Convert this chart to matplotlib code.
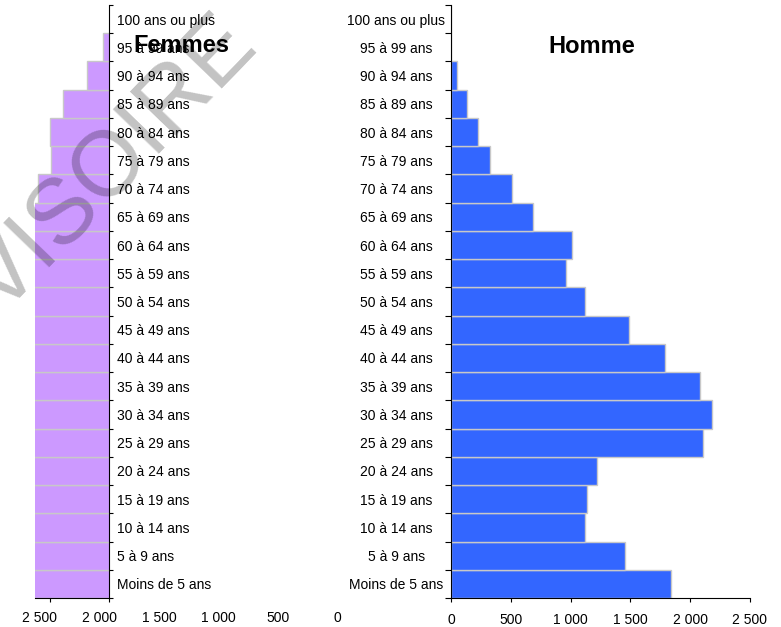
import matplotlib
matplotlib.use('Agg')
import matplotlib.pyplot as plt
import matplotlib.transforms as mtransforms

plt.rcParams['font.family'] = ['Liberation Sans', 'DejaVu Sans']

# Tranches d'âge, de la plus jeune à la plus âgée
ages = ['Moins de 5 ans', '5 à 9 ans', '10 à 14 ans', '15 à 19 ans', '20 à 24 ans',
        '25 à 29 ans', '30 à 34 ans', '35 à 39 ans', '40 à 44 ans', '45 à 49 ans',
        '50 à 54 ans', '55 à 59 ans', '60 à 64 ans', '65 à 69 ans', '70 à 74 ans',
        '75 à 79 ans', '80 à 84 ans', '85 à 89 ans', '90 à 94 ans', '95 à 99 ans',
        '100 ans ou plus']

# Effectifs hommes
hommes = [1840, 1452, 1123, 1140, 1218, 2107, 2180, 2085, 1792, 1491,
          1118, 964, 1012, 688, 507, 329, 223, 136, 50, 0, 0]

femmes = [2700, 2700, 2700, 2700, 2700, 2700, 2700, 2700, 2700, 2700,
          2700, 2700, 2700, 2700, 2596, 2489, 2497, 2386, 2190, 2055, 0]

graduations = [0, 500, 1000, 1500, 2000, 2500]
etiquettes = ['0', '500', '1 000', '1 500', '2 000', '2 500']

W, H = 781, 627
fig = plt.figure(figsize=(W / 100, H / 100), dpi=100)

y = list(range(len(ages)))
bornes = [i - 0.5 for i in range(len(ages) + 1)]

# ---- Hommes (droite)
ax = fig.add_axes([451 / W, 29 / H, 299 / W, 593 / H])
ax.barh(y, hommes, height=1.0, color='#3366FF', edgecolor='#C8C8C8', linewidth=1)
ax.set_xlim(0, 2500)
ax.set_ylim(-0.5, len(ages) - 0.5)
ax.spines['top'].set_visible(False)
ax.spines['right'].set_visible(False)
ax.set_xticks(graduations)
ax.set_xticklabels(etiquettes)
ax.set_yticks(bornes)
ax.set_yticklabels([])
ax.set_yticks(y, minor=True)
ax.set_yticklabels(ages, minor=True)
ax.tick_params(axis='y', which='major', length=4, direction='out')
ax.tick_params(axis='y', which='minor', length=0, pad=39.5, labelsize=10)
for t in ax.get_yticklabels(minor=True):
    t.set_ha('center')
ax.tick_params(axis='x', length=3, pad=8, labelsize=10)
ax.text(0.47, 0.93, 'Homme', transform=ax.transAxes, ha='center', va='center',
        fontsize=17, fontweight='bold')

# ---- Femmes (gauche, miroir)
ax2 = fig.add_axes([35 / W, 29 / H, 74.3 / W, 593 / H])
ax2.barh(y, femmes, height=1.0, color='#CC99FF', edgecolor='#C8C8C8', linewidth=1)
ax2.set_xlim(2623, 2000)
ax2.set_ylim(-0.5, len(ages) - 0.5)
ax2.spines['top'].set_visible(False)
ax2.spines['left'].set_visible(False)
ax2.yaxis.tick_right()
ax2.set_yticks(bornes)
ax2.set_yticklabels([])
ax2.set_yticks(y, minor=True)
ax2.set_yticklabels(ages, minor=True)
ax2.tick_params(axis='y', which='major', length=3, direction='out')
ax2.tick_params(axis='y', which='minor', length=0, pad=5.5, labelsize=10)
ax2.set_xticks([2500, 2000])
ax2.set_xticklabels([])
ax2.tick_params(axis='x', length=3)
trans = mtransforms.blended_transform_factory(ax2.transData, fig.transFigure)
trans = mtransforms.offset_copy(trans, fig=fig, x=-10, y=0, units='dots')
for g, e in zip(graduations, etiquettes):
    ax2.text(g, 1 - 618 / H, e, transform=trans, ha='center', va='center',
             fontsize=10, clip_on=False)
fig.text(181 / W, 1 - 45 / H, 'Femmes', ha='center', va='center',
         fontsize=17, fontweight='bold')

# filigrane
fig.text(114 / W, 1 - 166 / H, 'VISOIRE', rotation=46, ha='center', va='center',
         fontsize=66, color='black', alpha=0.24, zorder=10)

fig.savefig('out.png', dpi=100)
